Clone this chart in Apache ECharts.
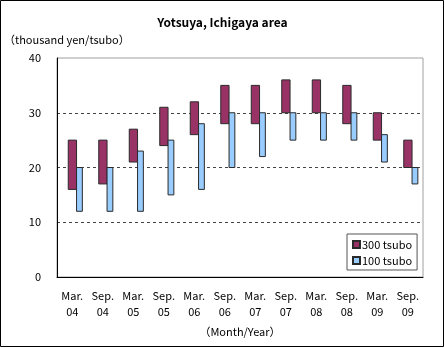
<!DOCTYPE html>
<html>
<head>
<meta charset="utf-8">
<script src="https://cdn.jsdelivr.net/npm/echarts@6/dist/echarts.min.js"></script>
<style>
  html, body { margin: 0; padding: 0; background: #fff; }
  #chart { width: 445px; height: 348px; }
</style>
</head>
<body>
<div id="chart"></div>
<script>
// Land price ranges, thousand yen per tsubo
const periods = ['Mar.\n04', 'Sep.\n04', 'Mar.\n05', 'Sep.\n05', 'Mar.\n06', 'Sep.\n06',
                 'Mar.\n07', 'Sep.\n07', 'Mar.\n08', 'Sep.\n08', 'Mar.\n09', 'Sep.\n09'];
const low300  = [16, 17, 21, 24, 26, 28, 28, 30, 30, 28, 25, 20];
const high300 = [25, 25, 27, 31, 32, 35, 35, 36, 36, 35, 30, 25];
const low100  = [12, 12, 12, 15, 16, 20, 22, 25, 25, 25, 21, 17];
const high100 = [20, 20, 23, 25, 28, 30, 30, 30, 30, 30, 26, 20];
const yTicks = [0, 10, 20, 30, 40];

const FONT = '"Noto Sans CJK JP", "Liberation Sans", sans-serif';

function rangeData(lo, hi) {
  return lo.map((v, i) => [i, v, hi[i]]);
}

// floating bar drawn between low and high, shifted by a pixel offset from the category centre
function floatingBar(offsetLeft, width) {
  return function (params, api) {
    const i = api.value(0);
    const top = api.coord([i, api.value(2)]);
    const bot = api.coord([i, api.value(1)]);
    return {
      type: 'rect',
      shape: { x: top[0] + offsetLeft, y: top[1], width: width, height: bot[1] - top[1] },
      style: api.style({ stroke: '#2a2a2a', lineWidth: 1 })
    };
  };
}

const chart = echarts.init(document.getElementById('chart'), null, { renderer: 'canvas' });
chart.setOption({
  backgroundColor: '#fff',
  animation: false,
  title: {
    text: 'Yotsuya, Ichigaya area',
    left: 'center', top: 11,
    textStyle: { fontFamily: FONT, fontSize: 12, fontWeight: 'bold', color: '#000' }
  },
  graphic: [
    { type: 'rect', shape: { x: 0.5, y: 0.5, width: 443, height: 346 },
      style: { fill: 'none', stroke: '#000', lineWidth: 1 }, silent: true },
    { type: 'text', left: 4, top: 34,
      style: { text: '（thousand yen/tsubo）', font: '11px ' + FONT, fill: '#000' } }
  ],
  legend: {
    orient: 'vertical',
    left: 347, top: 234,
    padding: [5, 5, 4, 5],
    itemGap: 5,
    itemWidth: 7, itemHeight: 7,
    icon: 'rect',
    borderColor: '#555', borderWidth: 1,
    textStyle: { fontFamily: FONT, fontSize: 11, color: '#000', padding: [0, 0, 0, -3] },
    data: ['300 tsubo', '100 tsubo']
  },
  grid: {
    left: 57, right: 22, top: 58, bottom: 71,
    show: true, borderColor: '#a0a0a0', borderWidth: 1, backgroundColor: '#fff'
  },
  xAxis: {
    type: 'category',
    data: periods,
    boundaryGap: true,
    name: '（Month/Year）',
    nameLocation: 'middle',
    nameGap: 49,
    nameTextStyle: { fontFamily: FONT, fontSize: 11, color: '#000' },
    axisLine: { lineStyle: { color: '#000', width: 1 } },
    axisTick: { inside: true, length: 4, lineStyle: { color: '#000' } },
    axisLabel: { fontFamily: FONT, fontSize: 11, color: '#000', lineHeight: 16, margin: 11, interval: 0 }
  },
  yAxis: {
    type: 'value',
    min: yTicks[0], max: yTicks[yTicks.length - 1], interval: 10,
    axisLine: { show: true, lineStyle: { color: '#000', width: 1 } },
    axisTick: { show: false },
    axisLabel: { fontFamily: FONT, fontSize: 11, color: '#000', margin: 16 },
    splitLine: {
      show: true, showMinLine: false, showMaxLine: false,
      lineStyle: { color: '#444', type: [3, 3], width: 1 }
    }
  },
  series: [
    {
      name: '300 tsubo', type: 'custom',
      itemStyle: { color: '#993366', borderColor: '#2a2a2a', borderWidth: 1 },
      encode: { x: 0, y: [1, 2] },
      renderItem: floatingBar(-4, 8.3),
      data: rangeData(low300, high300)
    },
    {
      name: '100 tsubo', type: 'custom',
      itemStyle: { color: '#99ccff', borderColor: '#2a2a2a', borderWidth: 1 },
      encode: { x: 0, y: [1, 2] },
      renderItem: floatingBar(4.3, 5.8),
      data: rangeData(low100, high100)
    }
  ]
});
</script>
</body>
</html>
